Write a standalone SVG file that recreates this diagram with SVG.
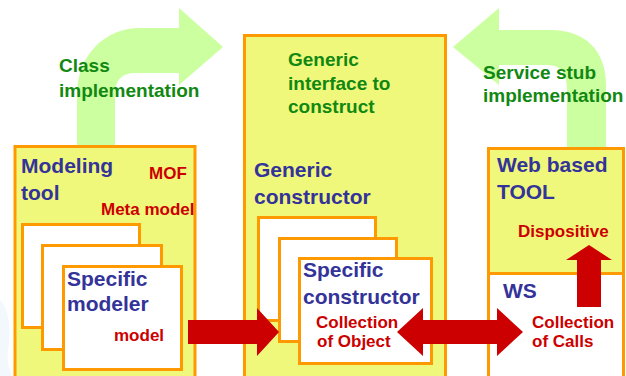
<svg xmlns="http://www.w3.org/2000/svg" width="626" height="376" viewBox="0 0 626 376">
<style>
.box{fill:#F0F87C;stroke:#FF9900;stroke-width:3}
.sq{fill:#FFFFFF;stroke:#FF9900;stroke-width:3}
.garrow{fill:#CCFFA0}
.rarrow{fill:#CC0000}
text{font-family:"Liberation Sans",Arial,sans-serif;font-weight:bold}
.g{fill:#118811;font-size:19px}
.n{fill:#333399;font-size:21px}
.r{fill:#CC0000;font-size:17px}
</style>
<rect width="626" height="376" fill="#FFFFFF"/>
<path d="M0,300 C8,305 12,330 8,350 C6,362 10,370 12,376 L0,376 Z" fill="#F2F8FC"/>
<g id="connectors">
<path id="class-impl-arrow" class="garrow" d="M77,150 L77,95 C77,55 105,28 140,28 L179,28 L179,8 L223,47 L179,85 L179,73 L135,73 Q115,73 115,95 L115,150 Z"/>
<path id="stub-impl-arrow" class="garrow" d="M606,150 L606,85 C606,50 585,30 550,30 L499,30 L499,8 L453,47 L499,85 L499,65 L548,65 Q567,65 567,90 L567,150 Z"/>
</g>
<g id="modeling-tool">
<rect class="box" x="15" y="146.5" width="180" height="240"/>
<text class="n" x="21" y="173">Modeling</text>
<text class="n" x="21" y="200">tool</text>
<text class="r" x="149" y="179">MOF</text>
<text class="r" x="101" y="215">Meta model</text>
<rect class="sq" x="22.5" y="224.5" width="117" height="103"/>
<rect class="sq" x="42.5" y="245.5" width="119" height="104"/>
<rect class="sq" x="63.5" y="266.5" width="118" height="103"/>
<text class="n" x="67" y="286">Specific</text>
<text class="n" x="67" y="311">modeler</text>
<text class="r" x="114" y="341">model</text>
</g>
<g id="generic-constructor">
<rect class="box" x="244.5" y="35.5" width="201" height="350"/>
<text class="g" x="288" y="66">Generic</text>
<text class="g" x="288" y="90">interface to</text>
<text class="g" x="288" y="113">construct</text>
<text class="n" x="254" y="177">Generic</text>
<text class="n" x="254" y="204">constructor</text>
<rect class="sq" x="258.5" y="217.5" width="117" height="103"/>
<rect class="sq" x="279.5" y="238.5" width="117" height="103"/>
<rect class="sq" x="299.5" y="258.5" width="132" height="105"/>
<text class="n" x="303" y="277">Specific</text>
<text class="n" x="303" y="304">constructor</text>
<text class="r" x="316" y="328">Collection</text>
<text class="r" x="317" y="347">of Object</text>
</g>
<g id="web-tool">
<rect class="box" x="488.5" y="148.5" width="135" height="240"/>
<rect x="490" y="274" width="132" height="110" fill="#FFFFFF"/>
<line x1="488.5" y1="273.5" x2="623.5" y2="273.5" stroke="#FF9900" stroke-width="3"/>
<text class="n" x="497" y="172">Web based</text>
<text class="n" x="497" y="199">TOOL</text>
<text class="r" x="518" y="237">Dispositive</text>
<text class="n" x="503" y="298">WS</text>
<text class="r" x="532" y="328">Collection</text>
<text class="r" x="532" y="347">of Calls</text>
</g>
<g id="labels">
<text class="g" x="59" y="72">Class</text>
<text class="g" x="59" y="97">implementation</text>
<text class="g" x="483" y="79">Service stub</text>
<text class="g" x="483" y="102">implementation</text>
</g>
<g id="flow-arrows">
<path class="rarrow" d="M188,320 L257,320 L257,308 L279,332 L257,356 L257,344 L188,344 Z"/>
<path class="rarrow" d="M397,332 L423,308 L423,320 L497,320 L497,308 L523,332 L497,356 L497,344 L423,344 L423,356 Z"/>
<path class="rarrow" d="M577,307 L577,260 L566,260 L589,245 L612,260 L601,260 L601,307 Z"/>
</g>
</svg>
